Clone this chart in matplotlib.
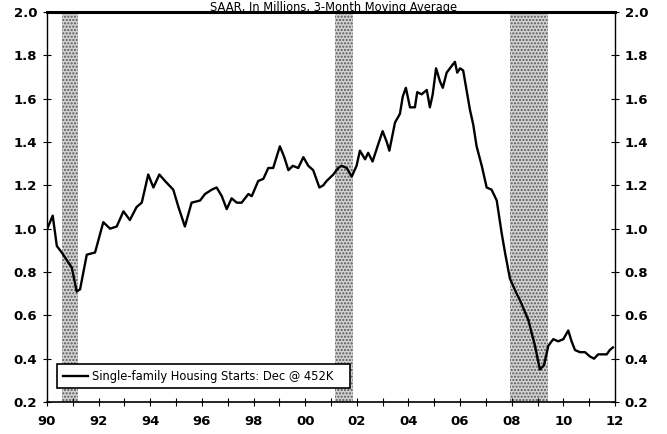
import matplotlib.pyplot as plt
import numpy as np

# single-family housing starts, SAAR, millions (3-month moving average)
years = [1990.01, 1990.22, 1990.38, 1990.57, 1990.96, 1991.15, 1991.28, 1991.54, 1991.86,
         1992.18, 1992.44, 1992.70, 1992.96, 1993.21, 1993.47, 1993.67, 1993.92, 1994.12,
         1994.35, 1994.57, 1994.89, 1995.09, 1995.34, 1995.60, 1995.93, 1996.12, 1996.38,
         1996.57, 1996.77, 1996.96, 1997.15, 1997.35, 1997.54, 1997.80, 1997.93, 1998.18,
         1998.38, 1998.57, 1998.76, 1999.02, 1999.19, 1999.35, 1999.52, 1999.73, 1999.93,
         2000.12, 2000.31, 2000.55, 2000.70, 2000.83, 2001.09, 2001.28, 2001.41, 2001.61,
         2001.80, 2001.99, 2002.12, 2002.32, 2002.44, 2002.61, 2002.83, 2003.00, 2003.16,
         2003.26, 2003.48, 2003.67, 2003.78, 2003.90, 2004.06, 2004.25, 2004.34, 2004.51,
         2004.71, 2004.83, 2004.94, 2005.07, 2005.22, 2005.33, 2005.48, 2005.67, 2005.80,
         2005.89, 2006.00, 2006.12, 2006.38, 2006.51, 2006.64, 2006.84, 2007.03, 2007.22,
         2007.42, 2007.61, 2007.74, 2007.93, 2008.19, 2008.32, 2008.64, 2008.90, 2009.09,
         2009.25, 2009.42, 2009.61, 2009.80, 2010.00, 2010.19, 2010.32, 2010.45, 2010.64,
         2010.84, 2011.03, 2011.19, 2011.35, 2011.55, 2011.68, 2011.80, 2011.92]
starts = [1.00, 1.06, 0.92, 0.89, 0.82, 0.71, 0.72, 0.88, 0.89,
          1.03, 1.00, 1.01, 1.08, 1.04, 1.10, 1.12, 1.25, 1.19,
          1.25, 1.22, 1.18, 1.10, 1.01, 1.12, 1.13, 1.16, 1.18,
          1.19, 1.15, 1.09, 1.14, 1.12, 1.12, 1.16, 1.15, 1.22,
          1.23, 1.28, 1.28, 1.38, 1.33, 1.27, 1.29, 1.28, 1.33,
          1.29, 1.27, 1.19, 1.20, 1.22, 1.25, 1.28, 1.29, 1.28,
          1.24, 1.29, 1.36, 1.32, 1.35, 1.31, 1.39, 1.45, 1.40,
          1.36, 1.49, 1.53, 1.61, 1.65, 1.56, 1.56, 1.63, 1.62,
          1.64, 1.56, 1.62, 1.74, 1.68, 1.65, 1.72, 1.75, 1.77,
          1.72, 1.74, 1.73, 1.55, 1.48, 1.38, 1.29, 1.19, 1.18,
          1.13, 0.98, 0.89, 0.77, 0.70, 0.67, 0.58, 0.46, 0.35,
          0.37, 0.46, 0.49, 0.48, 0.49, 0.53, 0.48, 0.44, 0.43,
          0.43, 0.41, 0.40, 0.42, 0.42, 0.42, 0.44, 0.452]

# NBER recessions
rec_start = [1990.58, 2001.17, 2007.92]
rec_end = [1991.21, 2001.87, 2009.42]

tick_years = list(range(1990, 2013, 2))
tick_labels = ['90', '92', '94', '96', '98', '00', '02', '04', '06', '08', '10', '12']
y_ticks = [0.2, 0.4, 0.6, 0.8, 1.0, 1.2, 1.4, 1.6, 1.8, 2.0]

fig = plt.figure(figsize=(6.67, 4.34), dpi=100)
ax = fig.add_axes([0.0705, 0.0737, 0.8515, 0.8987])

for s, e in zip(rec_start, rec_end):
    ax.axvspan(s, e, facecolor='#d2d2d2', edgecolor='#555555', hatch='.....', lw=0, zorder=1)

ax.plot(years, starts, color='black', lw=1.7, zorder=3,
        label='Single-family Housing Starts: Dec @ 452K')

ax.set_xlim(1990, 2012)
ax.set_ylim(0.2, 2.0)
ax.set_xticks(tick_years)
ax.set_xticklabels(tick_labels)
ax.set_xticks(range(1990, 2013), minor=True)
ax.set_yticks(y_ticks)
ax.set_yticklabels(['%.1f' % v for v in y_ticks])

ax.tick_params(axis='both', which='both', direction='inout', length=6, width=0.8,
               labelsize=9.5, right=True, labelright=True, top=False)
ax.tick_params(axis='y', pad=4)
ax.tick_params(axis='x', pad=6)
for lab in ax.get_xticklabels() + ax.get_yticklabels():
    lab.set_fontweight('bold')

ax.spines['top'].set_linewidth(2.2)
ax.spines['bottom'].set_linewidth(1.2)
ax.spines['left'].set_linewidth(1.0)
ax.spines['right'].set_linewidth(1.0)

leg = ax.legend(loc='lower left', bbox_to_anchor=(0.018, 0.035), fontsize=8.3,
                frameon=True, fancybox=False, handlelength=2.2, borderpad=0.5,
                handletextpad=0.3, borderaxespad=0)
leg.get_frame().set_edgecolor('black')
leg.get_frame().set_linewidth(1.2)
leg.get_frame().set_alpha(1.0)
# pad the box sideways a bit without making it taller
leg._legend_box.sep = 0
for t in leg.get_texts():
    t.set_text(t.get_text() + '   ')

fig.text(0.5, 0.998, 'SAAR, In Millions, 3-Month Moving Average', ha='center',
         va='top', fontsize=8.3)

fig.savefig('out.png', dpi=100)
